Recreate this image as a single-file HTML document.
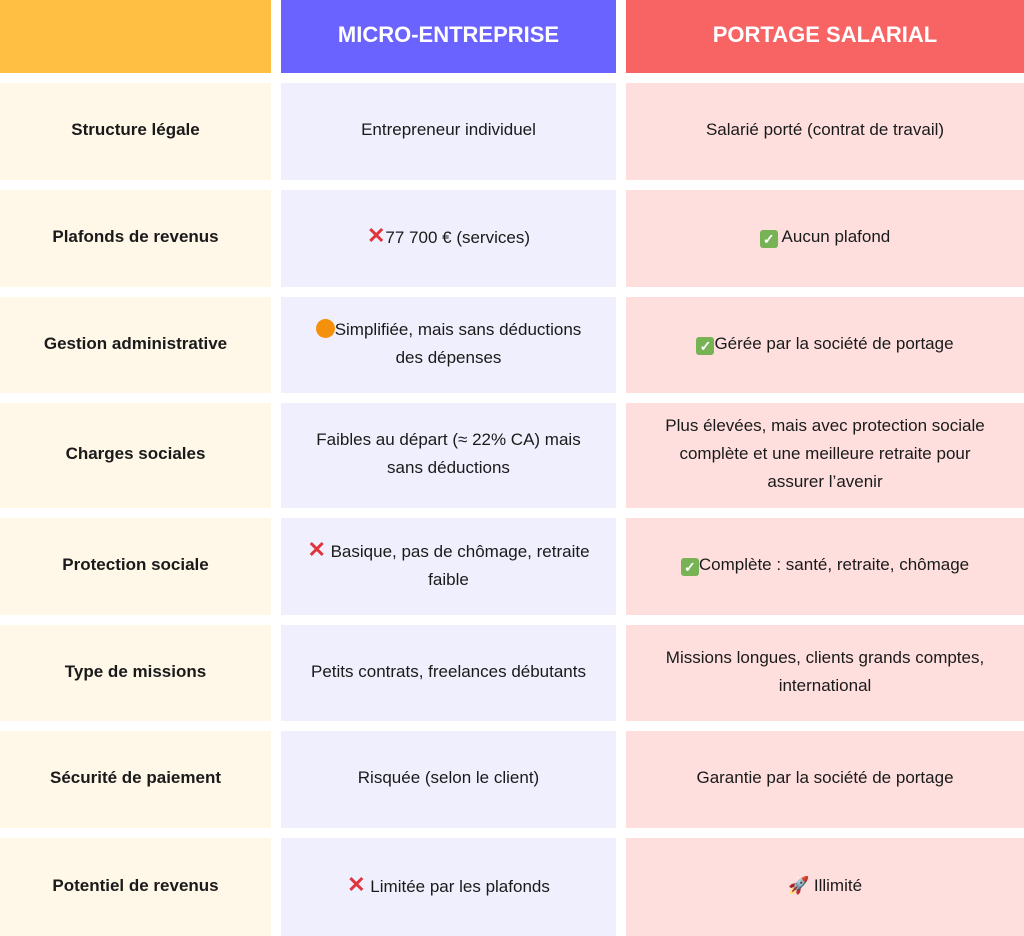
<!DOCTYPE html>
<html><head><meta charset="utf-8"><style>
body{margin:0;width:1024px;height:936px;background:#fff;position:relative;overflow:hidden;font-family:"Liberation Sans",sans-serif;}
.c{position:absolute;display:flex;align-items:center;justify-content:center;text-align:center;font-size:17px;color:#1a1a1a;line-height:28px;box-sizing:border-box;padding:0 10px 3px}
.a{left:0;width:271px;background:#FFF7E8;font-weight:bold;}
.b{left:281px;width:335px;background:#F0EFFD;}
.d{left:626px;width:398px;background:#FEDFDE;}
.h{color:#fff;font-weight:bold;font-size:22px;}
.x{color:#e0343c;font-weight:bold;font-size:22px;}
.ck{display:inline-block;width:18px;height:18px;background:#77b255;border-radius:3px;color:#fff;font-size:14px;line-height:18px;vertical-align:-2px;font-weight:bold}
.dot{display:inline-block;width:19px;height:19px;background:#f4900c;border-radius:50%;vertical-align:-3px}
</style></head><body>
<div class="c h" style="left:0;width:271px;top:0;height:73px;background:#FFBF42"></div>
<div class="c h" style="left:281px;width:335px;top:0;height:73px;background:#6B63FF">MICRO-ENTREPRISE</div>
<div class="c h" style="left:626px;width:398px;top:0;height:73px;background:#F86464">PORTAGE SALARIAL</div>

<div class="c a" style="top:83px;height:97px">Structure légale</div>
<div class="c b" style="top:83px;height:97px">Entrepreneur individuel</div>
<div class="c d" style="top:83px;height:97px">Salarié porté (contrat de travail)</div>

<div class="c a" style="top:190px;height:97px">Plafonds de revenus</div>
<div class="c b" style="top:190px;height:97px"><span><span class="x">✕</span>77 700 € (services)</span></div>
<div class="c d" style="top:190px;height:97px"><span><span class="ck">✓</span> Aucun plafond</span></div>

<div class="c a" style="top:297px;height:96px">Gestion administrative</div>
<div class="c b" style="top:297px;height:96px"><span><span class="dot"></span>Simplifiée, mais sans déductions<br>des dépenses</span></div>
<div class="c d" style="top:297px;height:96px"><span><span class="ck">✓</span>Gérée par la société de portage</span></div>

<div class="c a" style="top:403px;height:105px">Charges sociales</div>
<div class="c b" style="top:403px;height:105px">Faibles au départ (≈ 22% CA) mais<br>sans déductions</div>
<div class="c d" style="top:403px;height:105px">Plus élevées, mais avec protection sociale<br>complète et une meilleure retraite pour<br>assurer l’avenir</div>

<div class="c a" style="top:518px;height:97px">Protection sociale</div>
<div class="c b" style="top:518px;height:97px"><span><span class="x">✕</span> Basique, pas de chômage, retraite<br>faible</span></div>
<div class="c d" style="top:518px;height:97px"><span><span class="ck">✓</span>Complète : santé, retraite, chômage</span></div>

<div class="c a" style="top:625px;height:96px">Type de missions</div>
<div class="c b" style="top:625px;height:96px">Petits contrats, freelances débutants</div>
<div class="c d" style="top:625px;height:96px">Missions longues, clients grands comptes,<br>international</div>

<div class="c a" style="top:731px;height:97px">Sécurité de paiement</div>
<div class="c b" style="top:731px;height:97px">Risquée (selon le client)</div>
<div class="c d" style="top:731px;height:97px">Garantie par la société de portage</div>

<div class="c a" style="top:838px;height:98px">Potentiel de revenus</div>
<div class="c b" style="top:838px;height:98px"><span><span class="x">✕</span> Limitée par les plafonds</span></div>
<div class="c d" style="top:838px;height:98px"><span><span style="color:#5a6fd6">🚀</span> Illimité</span></div>
</body></html>
